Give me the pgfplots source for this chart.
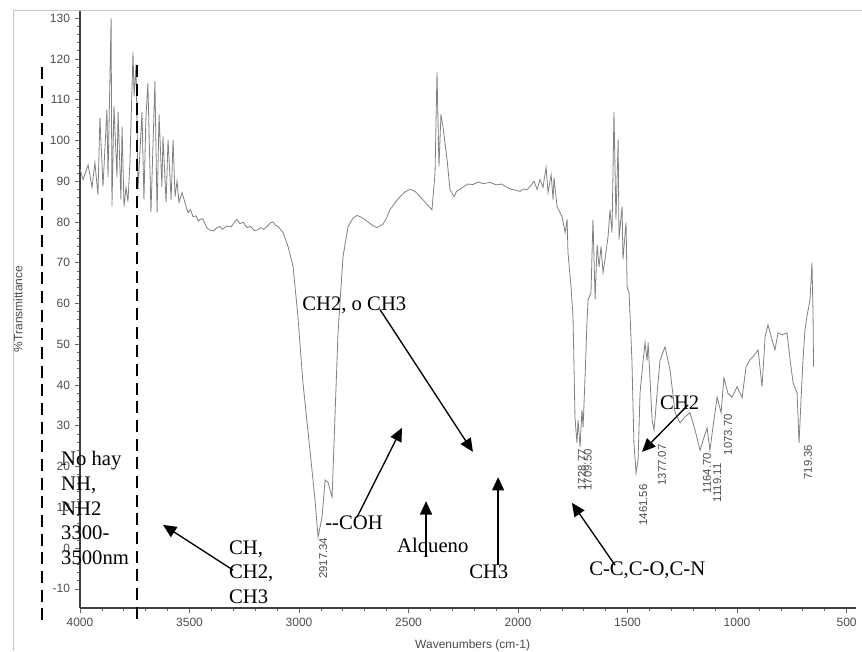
\documentclass[border=0pt]{standalone}
\usepackage{pgfplots}
\pgfplotsset{compat=1.18}
\usepackage{fontspec}
\setmainfont{Liberation Serif}
\newfontfamily\arial{Liberation Sans}
\usetikzlibrary{arrows.meta}
\begin{document}
\begin{tikzpicture}
\begin{axis}[
  at={(0,0)}, anchor=south west,
  scale only axis, width=582pt, height=448.5pt,
  x dir=reverse, xmin=457, xmax=4000, ymin=-14.7, ymax=132,
  axis x line*=bottom, axis y line*=left,
  axis line style={-, line width=1.3pt, black!75},
  xtick={500,1000,...,4000}, ytick={-10,0,...,130},
  minor x tick num=4, minor y tick num=4,
  tick align=outside, major tick length=4pt, minor tick length=2pt,
  tick style={black!60, line width=0.5pt},
  ticklabel style={font=\arial\fontsize{9}{10}\selectfont, text=black!70},
  /pgf/number format/assume math mode=true,
  /pgf/number format/1000 sep={},
  xlabel={Wavenumbers (cm-1)}, ylabel={\%Transmittance},
  label style={font=\arial\fontsize{9}{10}\selectfont, text=black!70},
  xlabel style={at={(axis description cs:0.506,-0.0619)}, anchor=center},
  ylabel style={at={(axis description cs:-0.0799,0.5)}, anchor=center},
  clip=false,
]
\addplot[color=black!50, line width=0.6pt] table {
4000 93
3986 90.4
3963 94
3945 88.5
3932 94.6
3918 86.7
3909 105.6
3895 88.7
3877 107.6
3872 91
3858 130
3854 83.8
3845 108.4
3831 91
3826 107
3813 85.5
3808 103.4
3799 83.8
3790 88.5
3781 85
3772 94.6
3758 121.6
3753 110.8
3744 118.7
3735 88
3717 107
3708 85.5
3699 105.6
3690 114
3676 82.3
3658 114.5
3648 82.3
3639 106.4
3626 88.7
3621 101
3607 84.8
3598 100.2
3584 85.5
3575 100.2
3566 86.2
3557 90
3548 84.8
3534 87.2
3521 84.8
3507 82.3
3495 83.0
3484 81.3
3470 81.5
3460 80.2
3452 80.6
3440 80.8
3420 78.5
3406 78
3390 77.8
3375 78.6
3361 78.9
3350 78.2
3330 79
3310 78.8
3295 80
3283 80.6
3270 79.6
3255 79.9
3237 78.6
3220 78.9
3205 77.9
3192 78
3175 78.6
3160 78.2
3146 78.9
3130 79.8
3119 80
3108 79.2
3096 78.9
3073 77.4
3050 74
3027 69
3005 56.8
2982 40.5
2950 24
2927 11.8
2913 2.7
2895 7.6
2881 16.7
2868 16.2
2849 12.5
2836 32
2822 52.8
2799 71.5
2776 78.9
2753 81
2735 81.6
2721 81.3
2700 80.6
2685 80
2665 79.2
2644 78.6
2630 79.1
2617 79.4
2600 81.0
2585 83
2560 84.8
2539 86.2
2515 87.4
2493 88
2470 87.5
2447 86.2
2420 84.6
2393 83
2379 92
2370 116.7
2361 93.6
2352 106.4
2343 103.4
2324 95.3
2311 88
2292 86.2
2280 87.6
2265 88
2250 88.6
2230 89.3
2206 89.2
2180 89.8
2160 89.4
2128 89.7
2100 89.1
2075 89.3
2050 88.5
2030 88.0
2010 87.8
1991 87.5
1975 88.1
1960 87.9
1945 88.7
1927 90
1913 88
1900 90.4
1886 88.5
1872 93.4
1863 87.2
1849 91.6
1840 85.5
1836 90.9
1822 83.8
1799 81.3
1785 77.4
1776 80.6
1772 72.5
1758 64
1749 56.8
1740 32
1731 25.8
1726 31.4
1717 24.8
1708 33.9
1703 29.7
1694 42
1685 56
1680 61
1667 62.6
1658 80.6
1648 61
1639 74.4
1630 69
1621 74
1612 67.6
1603 70.8
1589 76.4
1580 83
1571 77.4
1562 107
1553 80.6
1543 100.2
1539 75.7
1525 83.8
1521 70.8
1507 79.9
1502 64
1493 62.6
1480 46
1471 25.8
1461 18.4
1452 21.6
1443 38
1429 46
1420 50.4
1411 46
1406 50.4
1388 31.4
1379 29
1365 38
1352 46
1329 49.4
1306 43.7
1283 33.2
1260 30.7
1238 32.2
1215 33.2
1192 29
1169 24
1155 26.5
1137 29.5
1124 24
1110 29.7
1091 37
1073 33.2
1060 41.8
1042 38
1023 37
1000 39.6
977 36.9
959 44.5
941 46.2
927 47
904 48.6
886 39.6
872 51.8
859 54.8
840 51
827 48.6
813 52.8
795 52.3
772 52.8
758 46.2
744 40.5
726 38
717 25.8
708 36.4
699 46.2
690 53.6
681 56.8
667 61
658 70
653 56.8
651 44.5
};
% frame
\draw[gray!45, line width=0.6pt] (axis cs:4306,-25.3) -- (axis cs:4306,132) -- (axis cs:429,132);
% dashed lines
\draw[black, line width=1.5pt, dash pattern=on 9pt off 5pt] (axis cs:4173,118) -- (axis cs:4173,-17.7);
\draw[black, line width=1.5pt, dash pattern=on 9pt off 5pt] (axis cs:3740,118.4) -- (axis cs:3740,-17.7);
% peak labels
\begin{scope}[every node/.style={rotate=90, font=\arial\fontsize{8.5}{9}\selectfont, text=black!70, inner sep=0pt}]
\node at (axis cs:2890,-2.5) {2917.34};
\node at (axis cs:1708,19.2) {1728.77};
\node at (axis cs:1682,19.2) {1709.50};
\node at (axis cs:1429,10.6) {1461.56};
\node at (axis cs:1343,20.4) {1377.07};
\node at (axis cs:1137,18.4) {1164.70};
\node at (axis cs:1091,16) {1119.11};
\node at (axis cs:1041,27.8) {1073.70};
\node at (axis cs:676,21.1) {719.36};
\end{scope}
% annotations
\begin{scope}[every node/.style={font=\fontsize{15.5}{18.5}\selectfont, inner sep=0pt, align=left, anchor=west}]
\node at (axis cs:4087,9.8) {No hay\\NH,\\NH2\\3300-\\3500nm};
\node at (axis cs:3320,-5.9) {CH,\\CH2,\\CH3};
\node at (axis cs:2881,6.1) {{-}{-}COH};
\node at (axis cs:2553,0.2) {Alqueno};
\node at (axis cs:2224,-5.7) {CH3};
\node at (axis cs:2986,59.5) {CH2, o CH3};
\node at (axis cs:1676,-5.4) {C-C,C-O,C-N};
\node at (axis cs:1352,35.6) {CH2};
\end{scope}
\begin{scope}[-{Triangle[length=10pt,width=9pt]}, line width=1pt]
\draw (axis cs:3301,-5.4) -- (axis cs:3621,5.7);
\draw (axis cs:2735,7.6) -- (axis cs:2530,29.5);
\draw (axis cs:2420,-2.2) -- (axis cs:2420,11.5);
\draw (axis cs:2091,-4.2) -- (axis cs:2091,17.4);
\draw (axis cs:2630,58.5) -- (axis cs:2206,23.6);
\draw (axis cs:1557,-4.2) -- (axis cs:1754,11.1);
\draw (axis cs:1224,35.1) -- (axis cs:1434,23.6);
\end{scope}
\end{axis}
\pgfresetboundingbox
\path[use as bounding box] (-60pt,-32.25pt) rectangle (586.5pt,456pt);
\end{tikzpicture}
\end{document}
